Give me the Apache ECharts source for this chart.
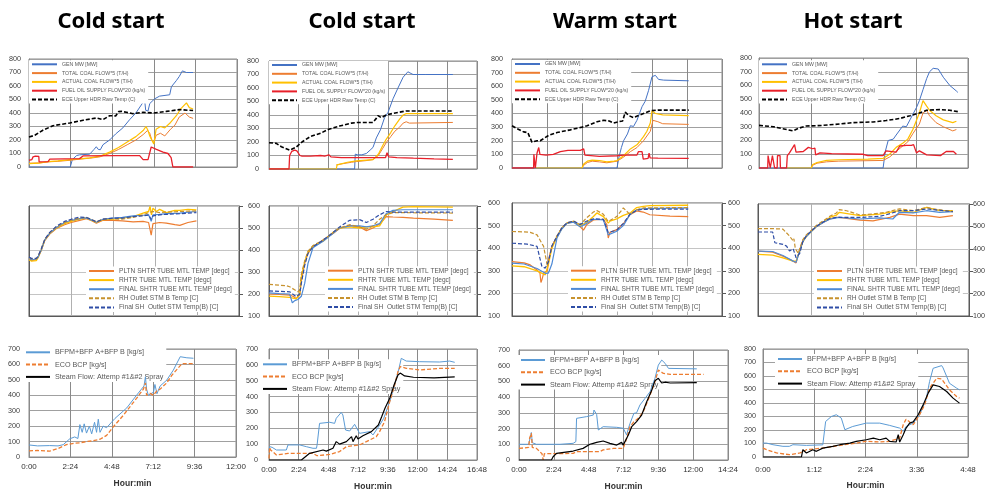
<!DOCTYPE html>
<html><head><meta charset="utf-8">
<script src="https://cdn.jsdelivr.net/npm/echarts@6/dist/echarts.min.js"></script>
<style>html,body{margin:0;padding:0;background:#fff}#c{width:991px;height:494px}</style>
</head><body><div id="c"></div>
<script>
// ---------- titles & legend names ----------
var titles = ['Cold start','Cold start','Warm start','Hot start'];
var names1 = ['GEN MW [MW]','TOTAL COAL FLOW*5 (T/H)','ACTUAL COAL FLOW*5 (T/H)','FUEL OIL SUPPLY FLOW*20 (kg/s)','ECE Upper HDR Raw Temp (C)'];
var names2 = ['PLTN SHTR TUBE MTL TEMP [degc]','RHTR TUBE MTL TEMP [degc]','FINAL SHTR TUBE MTL TEMP [degc]','RH Outlet STM B Temp [C]','Final SH  Outlet STM Temp(B) [C]'];
var names3 = ['BFPM+BFP A+BFP B [kg/s]','ECO BCP [kg/s]','Steam Flow: Attemp #1&#2 Spray'];
var xMaxMin = [720,1008,864,288];   // minutes
var xStepMin = [144,144,144,72];

// ---------- row 1 : MW / coal / oil / temp ----------
var r1p1_gen = [[0,0],[143,0],[150,55],[165,85],[175,90],[210,95],[225,130],[233,150],[240,130],[247,128],[256,165],[279,200],[300,245],[325,290],[348,350],[370,400],[392,470],[400,500],[404,420],[412,415],[418,470],[435,505],[452,525],[487,535],[493,595],[510,640],[520,670],[531,712],[545,700],[568,700]];
var r1p1_tcoal = [[0,28],[34,30],[35,35],[66,38],[100,42],[143,50],[175,58],[210,65],[245,75],[279,100],[310,130],[340,165],[370,200],[395,240],[410,270],[418,250],[425,200],[432,180],[440,235],[455,250],[470,230],[490,280],[505,310],[520,370],[540,400],[555,370],[568,360]];
var r1p1_acoal = [[0,25],[34,28],[35,35],[66,40],[100,45],[143,55],[175,60],[210,68],[245,80],[279,110],[310,145],[340,185],[370,225],[395,270],[405,300],[412,270],[418,230],[425,200],[432,170],[440,280],[455,300],[470,290],[490,330],[510,380],[525,430],[545,475],[555,440],[568,430]];
var r1p1_oil = [[0,50],[10,55],[14,75],[22,80],[34,78],[35,38],[66,40],[72,58],[175,62],[187,82],[300,85],[383,84],[395,55],[412,55],[423,148],[441,130],[464,110],[481,100],[492,70],[498,0],[568,0]];
var r1p1_ece = [[0,222],[20,235],[48,272],[83,306],[141,326],[187,346],[233,363],[256,351],[279,380],[300,378],[310,410],[320,412],[337,405],[360,395],[395,405],[430,400],[475,412],[521,425],[568,418]];

var r1p2_gen = [[0,0],[415,0],[418,110],[430,105],[450,105],[472,115],[490,140],[504,160],[520,230],[540,290],[560,380],[577,420],[601,520],[625,600],[650,680],[673,720],[698,700],[760,700],[891,700]];
var r1p2_tcoal = [[326,30],[360,40],[400,50],[423,55],[470,62],[504,70],[530,100],[550,150],[570,200],[590,240],[610,280],[633,310],[650,340],[665,350],[680,340],[891,345]];
var r1p2_acoal = [[0,0],[326,0],[330,30],[380,50],[423,60],[504,70],[530,110],[550,170],[568,220],[590,270],[610,320],[633,370],[650,400],[665,410],[891,410]];
var r1p2_oil = [[0,0],[97,0],[100,100],[110,130],[125,140],[135,135],[143,145],[150,100],[160,95],[200,95],[250,100],[270,95],[290,105],[300,90],[350,85],[450,85],[565,85],[572,120],[580,90],[620,85],[700,80],[800,75],[891,72]];
var r1p2_ece = [[0,195],[35,190],[60,165],[100,140],[130,160],[160,200],[200,240],[250,265],[290,295],[342,318],[400,340],[431,345],[504,345],[520,375],[528,395],[545,380],[568,400],[601,412],[665,430],[891,430]];

var r1p3_gen = [[0,0],[432,0],[440,80],[450,150],[459,200],[475,250],[487,310],[500,305],[514,350],[535,450],[548,490],[562,570],[576,670],[590,680],[603,650],[624,645],[727,640]];
var r1p3_tcoal = [[288,0],[295,20],[310,40],[330,50],[360,45],[390,38],[432,50],[459,80],[487,120],[514,150],[541,200],[569,270],[580,350],[600,340],[620,325],[727,320]];
var r1p3_acoal = [[96,0],[288,0],[295,30],[310,50],[330,58],[360,55],[390,45],[420,50],[432,55],[459,90],[487,140],[514,170],[528,200],[541,230],[555,270],[569,330],[576,420],[590,400],[620,390],[727,385]];
var r1p3_oil = [[0,0],[89,0],[90,100],[93,90],[96,0],[100,0],[103,110],[110,150],[115,100],[140,95],[170,100],[199,120],[230,130],[281,130],[295,140],[300,95],[360,85],[432,90],[459,95],[514,95],[520,120],[535,120],[540,65],[560,70],[564,110],[568,75],[600,72],[727,70]];
var r1p3_ece = [[0,310],[20,290],[48,265],[65,260],[82,190],[103,200],[116,200],[151,240],[185,260],[240,280],[288,300],[309,310],[350,340],[377,350],[400,345],[418,330],[440,340],[455,345],[466,410],[480,385],[500,370],[520,385],[541,400],[569,420],[600,425],[727,425]];

var r1p4_gen = [[0,0],[171,0],[174,120],[178,200],[185,210],[189,240],[198,305],[203,300],[208,350],[212,390],[217,440],[221,490],[226,570],[231,650],[235,700],[240,725],[247,720],[254,660],[263,600],[272,560],[274,550]];
var r1p4_tcoal = [[72,0],[74,20],[80,35],[93,45],[110,50],[171,55],[180,80],[189,120],[198,160],[205,190],[212,250],[221,320],[226,400],[231,420],[235,380],[244,330],[254,300],[267,270],[272,280]];
var r1p4_acoal = [[38,0],[72,0],[74,25],[80,40],[93,55],[110,60],[150,65],[171,70],[180,100],[189,150],[198,180],[205,210],[212,280],[221,400],[226,490],[231,450],[235,420],[244,380],[254,350],[267,330],[272,340]];
var r1p4_oil = [[0,0],[12,0],[12.5,90],[15,90],[15.5,0],[18,0],[18.5,90],[21,90],[21.5,0],[25,0],[25.5,90],[29,90],[29.5,0],[38,0],[39,90],[42,110],[49,170],[51,115],[61,120],[68,150],[74,140],[77,145],[78,95],[84,110],[100,105],[143,100],[150,90],[171,90],[175,125],[189,115],[194,160],[203,165],[210,165],[213,170],[217,110],[221,125],[231,95],[250,90],[258,120],[268,120],[272,100]];
var r1p4_ece = [[0,310],[20,300],[47,270],[55,290],[65,305],[88,310],[111,320],[130,330],[157,335],[175,345],[194,360],[208,380],[221,400],[231,420],[249,425],[263,420],[274,410]];

// ---------- row 2 : tube metal temps ----------
var r2p1_pltn = [[0,360],[8,352],[14,348],[25,356],[31,366],[42,398],[54,443],[71,472],[94,498],[122,515],[145,525],[174,535],[197,542],[215,533],[231,522],[254,535],[288,535],[320,532],[357,528],[391,530],[410,525],[419,468],[425,520],[448,525],[471,522],[500,515],[517,512],[545,525],[574,532]];
var r2p1_rhtr = [[0,355],[8,350],[14,345],[25,352],[31,365],[42,400],[54,445],[71,475],[94,500],[122,520],[145,530],[174,540],[197,545],[215,535],[231,525],[254,538],[288,540],[320,545],[357,552],[391,568],[410,575],[415,598],[420,560],[425,590],[437,575],[448,585],[471,570],[500,580],[517,580],[545,585],[574,582]];
var r2p1_final = [[0,362],[8,356],[14,352],[25,358],[31,368],[42,400],[54,446],[71,476],[94,502],[122,525],[145,535],[174,543],[197,546],[215,536],[231,526],[254,540],[288,545],[320,548],[357,555],[391,558],[410,560],[419,530],[425,560],[448,562],[471,565],[517,568],[545,572],[574,575]];
var r2p1_rh = [[0,365],[8,360],[14,355],[25,360],[31,370],[42,405],[54,448],[71,478],[94,505],[122,525],[145,535],[174,545],[197,548],[215,538],[231,528],[254,540],[288,542],[320,540],[357,548],[391,560],[410,570],[425,575],[448,570],[471,572],[517,575],[574,578]];
var r2p1_sh = [[0,368],[8,362],[14,356],[25,362],[31,372],[42,405],[54,448],[71,480],[94,508],[122,530],[145,540],[174,550],[197,548],[215,538],[231,528],[254,540],[288,545],[320,545],[357,552],[391,555],[410,560],[419,540],[425,555],[448,560],[471,562],[517,565],[574,570]];

var r2p2_pltn = [[0,200],[50,198],[100,195],[116,190],[132,180],[140,185],[149,195],[157,260],[173,340],[189,385],[213,415],[262,445],[310,475],[342,498],[391,512],[439,505],[472,488],[504,500],[536,518],[568,552],[601,550],[649,548],[700,545],[800,540],[891,535]];
var r2p2_rhtr = [[0,190],[50,188],[100,185],[132,178],[140,182],[149,200],[157,280],[173,345],[189,390],[213,418],[262,440],[310,480],[342,500],[391,505],[439,500],[472,505],[504,505],[536,510],[568,560],[601,575],[649,595],[700,597],[891,595]];
var r2p2_final = [[0,205],[50,202],[100,200],[113,160],[125,170],[140,175],[149,180],[157,190],[173,248],[189,339],[213,410],[262,440],[310,475],[342,500],[391,510],[439,510],[472,505],[504,510],[536,520],[568,565],[601,580],[649,583],[891,583]];
var r2p2_rh = [[0,244],[50,240],[84,238],[100,233],[140,210],[149,220],[157,290],[173,350],[189,395],[213,420],[262,445],[310,478],[342,500],[391,515],[439,505],[472,495],[504,510],[536,540],[568,560],[601,570],[891,568]];
var r2p2_sh = [[0,214],[50,212],[100,210],[132,188],[140,195],[149,200],[157,250],[173,330],[189,385],[213,415],[262,445],[310,480],[342,505],[391,535],[439,538],[472,525],[504,540],[536,560],[568,575],[601,572],[891,572]];

var r2p3_pltn = [[0,341],[50,335],[75,326],[103,304],[115,290],[119,248],[123,260],[130,289],[146,300],[150,348],[164,408],[185,452],[205,489],[226,511],[253,518],[280,496],[294,480],[308,505],[335,525],[376,528],[390,505],[396,445],[403,470],[431,482],[458,508],[485,548],[513,565],[540,560],[567,548],[650,542],[725,540]];
var r2p3_rhtr = [[0,322],[50,318],[103,300],[137,282],[150,330],[164,400],[185,450],[205,488],[226,510],[253,518],[280,500],[308,515],[335,540],[349,556],[376,540],[396,511],[403,520],[431,530],[458,545],[485,555],[513,580],[540,585],[567,588],[725,590]];
var r2p3_final = [[0,334],[50,330],[103,310],[137,289],[150,290],[164,330],[185,445],[205,485],[226,510],[253,515],[280,495],[308,510],[335,528],[376,525],[396,459],[403,465],[431,475],[458,500],[485,548],[513,570],[540,575],[725,578]];
var r2p3_rh = [[0,474],[50,472],[75,470],[103,459],[130,408],[146,319],[150,320],[164,408],[185,455],[205,490],[226,512],[253,520],[280,505],[308,535],[335,560],[349,567],[376,550],[396,518],[403,525],[431,540],[458,578],[465,585],[485,550],[513,570],[540,578],[725,580]];
var r2p3_sh = [[0,422],[62,418],[103,408],[123,319],[137,312],[150,340],[164,410],[185,452],[205,490],[226,512],[253,520],[280,505],[308,520],[335,530],[376,528],[396,470],[403,470],[431,480],[458,510],[485,550],[513,568],[540,572],[725,573]];

var r2p4_pltn = [[0,390],[20,385],[34,367],[48,345],[52,337],[57,397],[61,435],[66,457],[73,480],[80,500],[89,518],[98,533],[107,540],[111,540],[139,528],[157,525],[180,540],[193,555],[212,548],[230,548],[248,540],[266,548]];
var r2p4_rhtr = [[0,375],[20,372],[34,360],[48,345],[52,345],[57,390],[61,430],[66,455],[73,478],[80,500],[89,520],[98,540],[107,550],[111,563],[139,548],[166,555],[193,570],[212,562],[230,585],[248,570],[266,570]];
var r2p4_final = [[0,390],[20,388],[34,370],[48,345],[52,340],[57,390],[61,432],[66,455],[73,478],[80,500],[89,518],[98,532],[107,538],[111,540],[139,533],[166,538],[184,533],[193,563],[212,560],[230,570],[248,563],[266,566]];
var r2p4_rh = [[0,490],[20,490],[34,488],[36,480],[43,457],[45,465],[48,435],[49,445],[51,400],[55,380],[57,400],[61,440],[66,462],[73,483],[80,505],[89,525],[98,545],[107,560],[111,575],[121,570],[139,551],[157,555],[175,563],[193,578],[212,570],[230,585],[239,578],[266,566]];
var r2p4_sh = [[0,475],[20,475],[23,427],[34,420],[39,412],[41,418],[43,390],[48,400],[52,360],[57,380],[61,430],[66,458],[73,480],[80,500],[89,520],[98,535],[107,540],[111,540],[139,540],[166,545],[175,552],[193,570],[212,570],[230,578],[266,566]];

// ---------- row 3 : feedwater / ECO / spray ----------
var r3p1_bfp = [[0,78],[30,72],[72,74],[101,72],[119,80],[142,118],[159,130],[170,120],[177,210],[185,160],[192,215],[200,155],[210,200],[218,150],[228,225],[235,160],[241,245],[247,160],[258,200],[270,190],[287,225],[299,250],[340,318],[374,400],[400,460],[405,520],[409,440],[415,400],[421,410],[433,420],[438,470],[445,410],[456,460],[479,498],[502,563],[526,650],[549,643],[572,640]];
var r3p1_eco = [[0,40],[30,42],[72,38],[101,55],[130,80],[160,90],[177,92],[200,100],[223,105],[247,115],[270,140],[293,195],[328,270],[374,380],[398,440],[405,480],[409,400],[415,390],[421,412],[433,400],[445,430],[456,440],[479,480],[497,530],[532,605],[572,605]];

var r3p2_bfp = [[0,60],[3,84],[15,80],[36,63],[84,63],[92,95],[149,95],[181,84],[213,74],[230,74],[233,95],[245,231],[294,238],[318,231],[326,263],[350,300],[358,284],[371,189],[391,183],[415,225],[439,168],[488,179],[504,158],[520,189],[536,220],[556,263],[585,368],[609,473],[630,578],[641,641],[665,624],[730,620],[827,618],[875,624],[900,616]];
var r3p2_eco = [[0,10],[3,80],[8,63],[36,32],[92,42],[181,42],[213,42],[233,27],[294,35],[342,53],[375,84],[439,95],[472,116],[520,147],[536,179],[560,242],[585,368],[609,473],[625,557],[636,589],[665,578],[730,568],[827,578],[900,578]];
var r3p2_steam = [[0,0],[157,0],[197,42],[262,63],[278,56],[310,74],[326,116],[342,100],[375,116],[400,147],[407,116],[423,153],[431,133],[455,153],[496,179],[530,221],[546,273],[562,326],[585,389],[606,473],[625,536],[636,548],[657,530],[700,522],[800,518],[900,524]];

var r3p3_bfp = [[0,100],[40,100],[44,105],[51,175],[55,110],[72,100],[169,100],[224,106],[235,117],[238,265],[279,276],[307,286],[310,318],[321,290],[328,191],[348,212],[404,208],[431,202],[445,159],[452,200],[459,233],[475,297],[486,300],[500,350],[521,392],[542,435],[562,520],[576,604],[590,636],[604,615],[618,583],[735,580]];
var r3p3_eco = [[0,74],[40,80],[44,140],[51,170],[55,80],[72,74],[95,40],[100,0],[105,40],[113,42],[224,42],[238,53],[334,53],[348,64],[390,74],[431,74],[438,64],[445,138],[459,212],[473,240],[493,265],[514,308],[542,413],[562,498],[576,573],[583,583],[597,551],[625,545],[763,545]];
var r3p3_steam = [[0,0],[134,0],[141,21],[155,42],[224,57],[265,74],[293,100],[307,106],[321,112],[348,121],[376,106],[404,95],[424,112],[431,95],[438,117],[452,159],[466,212],[486,244],[507,286],[528,371],[549,445],[562,505],[576,520],[590,490],[604,495],[625,490],[735,492]];

var r3p4_bfp = [[0,103],[5,103],[14,91],[28,79],[37,79],[42,91],[61,86],[84,90],[88,263],[96,300],[103,313],[110,288],[112,300],[115,202],[126,226],[145,251],[164,251],[178,234],[192,214],[197,190],[201,226],[211,251],[220,313],[229,423],[234,559],[239,657],[251,677],[253,660],[262,546],[272,510],[276,497]];
var r3p4_eco = [[0,66],[5,54],[19,30],[37,17],[52,30],[61,54],[84,66],[108,86],[131,103],[145,116],[164,111],[178,116],[192,140],[197,239],[199,260],[201,280],[211,239],[220,313],[227,386],[234,510],[244,583],[251,578],[262,497],[272,448],[276,436]];
var r3p4_steam = [[0,0],[54,0],[56,54],[61,30],[70,54],[75,42],[84,66],[98,79],[108,91],[122,103],[131,116],[145,128],[155,140],[164,128],[173,140],[178,116],[187,111],[190,165],[192,111],[197,165],[201,214],[206,251],[211,260],[218,313],[225,386],[232,473],[239,534],[248,522],[258,485],[267,436],[276,399]];

var row1Data = [[r1p1_gen,r1p1_tcoal,r1p1_acoal,r1p1_oil,r1p1_ece],[r1p2_gen,r1p2_tcoal,r1p2_acoal,r1p2_oil,r1p2_ece],[r1p3_gen,r1p3_tcoal,r1p3_acoal,r1p3_oil,r1p3_ece],[r1p4_gen,r1p4_tcoal,r1p4_acoal,r1p4_oil,r1p4_ece]];
var row2Data = [[r2p1_pltn,r2p1_rhtr,r2p1_final,r2p1_rh,r2p1_sh],[r2p2_pltn,r2p2_rhtr,r2p2_final,r2p2_rh,r2p2_sh],[r2p3_pltn,r2p3_rhtr,r2p3_final,r2p3_rh,r2p3_sh],[r2p4_pltn,r2p4_rhtr,r2p4_final,r2p4_rh,r2p4_sh]];
var row3Data = [[r3p1_bfp,r3p1_eco,null],[r3p2_bfp,r3p2_eco,r3p2_steam],[r3p3_bfp,r3p3_eco,r3p3_steam],[r3p4_bfp,r3p4_eco,r3p4_steam]];

// ---------- layout & styles ----------
var grids = [
 {left:29, top:59, width:208, height:108},{left:269, top:61, width:208, height:108},{left:512, top:59, width:210, height:109},{left:759, top:58, width:209, height:110},
 {left:29, top:206, width:210, height:110},{left:269, top:206, width:208, height:110},{left:512, top:203, width:210, height:113},{left:758, top:204, width:211, height:112},
 {left:29, top:349, width:207, height:108},{left:269, top:349, width:208, height:111},{left:519, top:350, width:209, height:110},{left:763, top:349, width:205, height:108}
];
var style1 = [{c:'#4472C4',w:1,d:'solid'},{c:'#ED7D31',w:1,d:'solid'},{c:'#FFC000',w:1.2,d:'solid'},{c:'#E8202A',w:1.3,d:'solid'},{c:'#000000',w:1.6,d:[4,2]}];
var style2 = [{c:'#ED7D31',w:1.2,d:'solid'},{c:'#FFC000',w:1.3,d:'solid'},{c:'#4E8AD6',w:1.2,d:'solid'},{c:'#C7922E',w:1.2,d:[4,2]},{c:'#2E4DA6',w:1.2,d:[4,2]}];
var style3 = [{c:'#5B9BD5',w:1,d:'solid'},{c:'#ED7D31',w:1.3,d:[4,2]},{c:'#000000',w:1.2,d:'solid'}];
var leg1 = [[29,60.3],[269,61],[512,60],[759,60.3]];
var leg2 = [[86,266.5],[325,266.2],[568,266.2],[814,266.5]];
var leg3 = [[23,347.3],[260,359.3],[518,355],[775,354]];
var ylab1Margin = [8,10,9,7];
var ylab3Margin = [9,11,9,7];
var xNameGap = [22,22,22,24];
var xLabMargin = [6,6,6,9];

function fmtHM(v){var h=Math.floor(v/60),m=Math.round(v-h*60);return h+':'+(m<10?'0'+m:m);}
var FF = 'Liberation Sans';
var xAxes=[], yAxes=[], series=[], legends=[], graphics=[];

for (var i=0;i<12;i++){
  var row=Math.floor(i/4), col=i%4;
  var gcol = row===1 ? '#c4c4c4' : '#a0a0a0';
  var vcol = row===1 ? '#b0b0b0' : '#8a8a8a';
  grids[i].show = true; grids[i].borderColor = row===1?'#595959':'#8a8a8a'; grids[i].borderWidth = 1;
  xAxes.push({type:'value', gridIndex:i, min:0, max:xMaxMin[col], interval:xStepMin[col],
    axisLine:{show:true, onZero:false, lineStyle:{color:row===1?'#595959':'#8a8a8a'}}, axisTick:{show:false},
    axisLabel:{show:row===2, formatter:fmtHM, fontSize:8, color:'#333', fontFamily:FF, margin:xLabMargin[col]},
    splitLine:{show:true, lineStyle:{color:vcol, width:1}},
    name: row===2 ? 'Hour:min' : '', nameLocation:'middle', nameGap:xNameGap[col],
    nameTextStyle:{fontSize:8.5, fontWeight:'bold', color:'#333', fontFamily:FF}});
  var ymin = row===1 ? 100 : 0;
  var ymax = row===0 ? 800 : (row===1 ? 600 : (col===3 ? 800 : 700));
  var showLeft = row!==1 || col===1 || col===2;
  var lm = row===0 ? ylab1Margin[col] : (row===2 ? ylab3Margin[col] : (col===1 ? 9 : 12));
  var yl = yAxes.length;
  yAxes.push({type:'value', gridIndex:i, min:ymin, max:ymax, interval:100, position:'left',
    axisLine:{show:true, lineStyle:{color:row===1?'#595959':'#8a8a8a'}}, axisTick:{show:false},
    axisLabel:{show:showLeft, fontSize:7.2, color:'#404040', fontFamily:FF, margin:lm},
    splitLine:{show:true, lineStyle:{color:gcol, width:1}}});
  if (row===1){
    yAxes.push({type:'value', gridIndex:i, min:ymin, max:ymax, interval:100, position:'right',
      axisLine:{show:true, lineStyle:{color:'#595959'}}, axisTick:{show:true, inside:false, length:4, lineStyle:{color:'#595959'}},
      axisLabel:{show:col>=2, fontSize:7.2, color:'#404040', fontFamily:FF, margin:col===2?6:4},
      splitLine:{show:false}});
  }
  var dataSet = row===0 ? row1Data[col] : (row===1 ? row2Data[col] : row3Data[col]);
  var nm = row===0 ? names1 : (row===1 ? names2 : names3);
  var st = row===0 ? style1 : (row===1 ? style2 : style3);
  for (var k=0;k<nm.length;k++){
    if (!dataSet[k]) continue;
    series.push({type:'line', name:nm[k], xAxisIndex:i, yAxisIndex:yl, data:dataSet[k], symbol:'none', animation:false,
      lineStyle:{color:st[k].c, width:st[k].w, type:st[k].d}, itemStyle:{color:st[k].c}, z:2+k});
  }
  var lp = row===0 ? leg1[col] : (row===1 ? leg2[col] : leg3[col]);
  var fs = row===0 ? 5.2 : (row===1 ? 6.6 : 7.2);
  var lh = row===0 ? 6 : (row===1 ? 7 : 8);
  var gap = row===0 ? 2.8 : (row===1 ? 2.1 : 4.3);
  legends.push({orient:'vertical', left:lp[0], top:lp[1], data:nm, itemWidth:row===2?24:25, itemHeight:lh, itemGap:gap,
    padding:[1,3,1,2], backgroundColor:'#ffffff', selectedMode:false, z: row===2 ? 1 : 20,
    itemStyle:{opacity:0},
    textStyle:{fontSize:fs, lineHeight:lh, color:'#595959', fontFamily:FF}});
}
var titleX = [111,362,615,853];
for (var t=0;t<4;t++){
  graphics.push({type:'text', x:titleX[t], y:22, style:{text:titles[t], fill:'#000', font:'bold 22px "Noto Sans"', textAlign:'center', textVerticalAlign:'middle'}});
}

var chart = echarts.init(document.getElementById('c'), null, {renderer:'canvas'});
chart.setOption({backgroundColor:'#fff', animation:false, grid:grids, xAxis:xAxes, yAxis:yAxes, series:series, legend:legends, graphic:graphics});
</script></body></html>
